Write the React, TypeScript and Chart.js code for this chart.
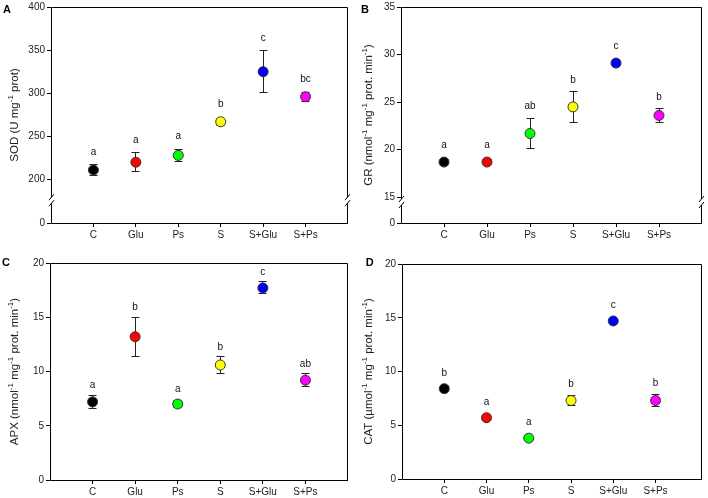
import React, { useEffect, useRef } from "react";
import { Chart, registerables } from "chart.js";

Chart.register(...registerables);

// ---------- data ----------
const categories = ["C", "Glu", "Ps", "S", "S+Glu", "S+Ps"];
const markerColors = ["#000000", "#ff0000", "#00ff00", "#ffff00", "#0000ff", "#ff00ff"];

const sodMean = [211, 220, 228, 267, 325, 296];
const sodErr = [6, 11, 7, 4, 24, 5];
const sodLetters = ["a", "a", "a", "b", "c", "bc"];
const sodTicks = [200, 250, 300, 350, 400];

const grMean = [18.7, 18.7, 21.7, 24.5, 29.1, 23.6];
const grErr = [0.3, 0.3, 1.6, 1.6, 0.3, 0.7];
const grLetters = ["a", "a", "ab", "b", "c", "b"];
const grTicks = [15, 20, 25, 30, 35];

const apxMean = [7.2, 13.2, 7.0, 10.6, 17.7, 9.2];
const apxErr = [0.6, 1.8, 0.3, 0.75, 0.55, 0.6];
const apxLetters = ["a", "b", "a", "b", "c", "ab"];
const apxTicks = [0, 5, 10, 15, 20];

const catMean = [8.4, 5.7, 3.8, 7.3, 14.7, 7.3];
const catErr = [0.3, 0.2, 0.2, 0.5, 0.2, 0.6];
const catLetters = ["b", "a", "a", "b", "c", "b"];
const catTicks = [0, 5, 10, 15, 20];

const lowerTicks = [0];

// ---------- panel definitions ----------
type Seg = { t: string; sup?: boolean };
interface PanelDef {
  tag: string;
  tagPos: [number, number];
  title: Seg[];
  mean: number[];
  err: number[];
  letters: string[];
  ticks: number[];
  min: number;
  max: number;
  xMax: number;
  broken: boolean;
  weights: [number, number];
  box: { x: number; y: number; w: number; h: number };
  area: { l: number; t: number; r: number; b: number };
  letterGap: number;
}

const panels: PanelDef[] = [
  {
    tag: "A",
    tagPos: [3, 12.5],
    title: [{ t: "SOD (U mg" }, { t: "-1", sup: true }, { t: " prot)" }],
    mean: sodMean, err: sodErr, letters: sodLetters, ticks: sodTicks,
    min: 176, max: 400, xMax: 6, broken: true, weights: [195, 23],
    box: { x: 0, y: 0, w: 354, h: 250 },
    area: { l: 51, t: 5, r: 353, b: 223 },
    letterGap: 10,
  },
  {
    tag: "B",
    tagPos: [7, 12.7],
    title: [{ t: "GR (nmol" }, { t: "-1", sup: true }, { t: " mg" }, { t: "-1", sup: true }, { t: " prot. min" }, { t: "-1", sup: true }, { t: ")" }],
    mean: grMean, err: grErr, letters: grLetters, ticks: grTicks,
    min: 14.5, max: 35, xMax: 6, broken: true, weights: [195, 21],
    box: { x: 354, y: 0, w: 354, h: 250 },
    area: { l: 47, t: 7, r: 353, b: 223 },
    letterGap: 9,
  },
  {
    tag: "C",
    tagPos: [2, 16],
    title: [{ t: "APX (nmol" }, { t: "-1", sup: true }, { t: " mg" }, { t: "-1", sup: true }, { t: " prot. min" }, { t: "-1", sup: true }, { t: ")" }],
    mean: apxMean, err: apxErr, letters: apxLetters, ticks: apxTicks,
    min: 0, max: 20, xMax: 6, broken: false, weights: [1, 0],
    box: { x: 0, y: 250, w: 354, h: 248 },
    area: { l: 50, t: 13, r: 353, b: 230 },
    letterGap: 7,
  },
  {
    tag: "D",
    tagPos: [11.7, 16],
    title: [{ t: "CAT (µmol" }, { t: "-1", sup: true }, { t: " mg" }, { t: "-1", sup: true }, { t: " prot. min" }, { t: "-1", sup: true }, { t: ")" }],
    mean: catMean, err: catErr, letters: catLetters, ticks: catTicks,
    min: 0, max: 20, xMax: 6.1, broken: false, weights: [1, 0],
    box: { x: 354, y: 250, w: 354, h: 248 },
    area: { l: 48, t: 14, r: 352, b: 229 },
    letterGap: 8,
  },
];

const FONT = '"Liberation Sans", Arial, Helvetica, sans-serif';

function align(p: number) {
  return Math.round(p - 0.5) + 0.5;
}

function drawRich(ctx: CanvasRenderingContext2D, segs: Seg[], cx: number, cy: number, size: number) {
  ctx.save();
  ctx.translate(cx, cy);
  ctx.rotate(-Math.PI / 2);
  const supSize = size * 0.7;
  const widths = segs.map((s) => {
    ctx.font = `${s.sup ? supSize : size}px ${FONT}`;
    return ctx.measureText(s.t).width;
  });
  const total = widths.reduce((a, b) => a + b, 0);
  let x = -total / 2;
  const base = size * 0.36;
  ctx.fillStyle = "#222";
  ctx.textBaseline = "alphabetic";
  ctx.textAlign = "left";
  segs.forEach((s, i) => {
    ctx.font = `${s.sup ? supSize : size}px ${FONT}`;
    ctx.fillText(s.t, x, s.sup ? base - size * 0.42 : base);
    x += widths[i];
  });
  ctx.restore();
}

function PanelChart({ p }: { p: PanelDef }) {
  const ref = useRef<HTMLCanvasElement>(null);

  useEffect(() => {
    const canvas = ref.current;
    if (!canvas) return;
    const tickFont = { family: FONT, size: 10, lineHeight: 1 };
    const gridOpts = {
      display: true,
      drawOnChartArea: false,
      drawTicks: true,
      tickLength: 4,
      color: "#000",
      lineWidth: 1,
    };
    const yBase = (ticks: number[]) => ({
      type: "linear",
      position: "left",
      afterBuildTicks: (s: any) => {
        s.ticks = ticks.map((v) => ({ value: v }));
      },
      afterFit: (s: any) => {
        s.width = p.area.l;
      },
      ticks: { font: tickFont, color: "#222", padding: 2 },
      grid: gridOpts,
      border: { display: false },
    });

    const xScale = {
      type: "linear",
      position: "bottom",
      min: -1,
      max: p.xMax,
      afterBuildTicks: (s: any) => {
        s.ticks = categories.map((_, i) => ({ value: i }));
      },
      afterFit: (s: any) => {
        s.height = p.box.h - p.area.b;
      },
      ticks: {
        font: tickFont,
        color: "#222",
        padding: 3,
        autoSkip: false,
        maxRotation: 0,
        callback: (v: any) => categories[Math.round(Number(v))] ?? "",
      },
      grid: gridOpts,
      border: { display: false },
    };

    let scales: any;
    if (p.broken) {
      // lower segment defined first so that it is stacked at the bottom
      scales = {
        x: xScale,
        y2: { ...yBase(lowerTicks), min: 0, max: 10, stack: "v", stackWeight: p.weights[1] },
        y: { ...yBase(p.ticks), min: p.min, max: p.max, stack: "v", stackWeight: p.weights[0] },
      };
    } else {
      scales = { x: xScale, y: { ...yBase(p.ticks), min: p.min, max: p.max } };
    }

    const decor = {
      id: "decor",
      beforeDatasetsDraw(chart: any) {
        const ctx = chart.ctx as CanvasRenderingContext2D;
        const xs = chart.scales.x;
        const ys = chart.scales.y;
        ctx.save();
        ctx.strokeStyle = "#222";
        ctx.lineWidth = 1;
        p.mean.forEach((m, i) => {
          const x = align(xs.getPixelForValue(i));
          const yt = ys.getPixelForValue(m + p.err[i]);
          const yb = ys.getPixelForValue(m - p.err[i]);
          ctx.beginPath();
          ctx.moveTo(x, yt);
          ctx.lineTo(x, yb);
          ctx.moveTo(x - 4, align(yt));
          ctx.lineTo(x + 4, align(yt));
          ctx.moveTo(x - 4, align(yb));
          ctx.lineTo(x + 4, align(yb));
          ctx.stroke();
        });
        ctx.restore();
      },
      afterDatasetsDraw(chart: any) {
        const ctx = chart.ctx as CanvasRenderingContext2D;
        const xs = chart.scales.x;
        const ys = chart.scales.y;
        ctx.save();
        ctx.fillStyle = "#111";
        ctx.font = `10px ${FONT}`;
        ctx.textAlign = "center";
        ctx.textBaseline = "alphabetic";
        p.mean.forEach((m, i) => {
          const x = xs.getPixelForValue(i);
          const top = Math.min(ys.getPixelForValue(m + p.err[i]), ys.getPixelForValue(m) - 5);
          ctx.fillText(p.letters[i], x, top - p.letterGap);
        });
        ctx.restore();
      },
      afterDraw(chart: any) {
        const ctx = chart.ctx as CanvasRenderingContext2D;
        const a = chart.chartArea;
        const L = align(a.left);
        const R = align(a.right - 1);
        const T = align(a.top);
        const B = align(a.bottom);
        ctx.save();
        ctx.strokeStyle = "#000";
        ctx.lineWidth = 1;
        ctx.beginPath();
        ctx.moveTo(L, T);
        ctx.lineTo(R, T);
        ctx.moveTo(L, B);
        ctx.lineTo(R + 0.5, B);
        if (p.broken) {
          const yb = chart.scales.y.bottom;
          const g = 3;
          [L, R].forEach((x) => {
            ctx.moveTo(x, T);
            ctx.lineTo(x, yb - g);
            ctx.moveTo(x, yb + g);
            ctx.lineTo(x, B);
            ctx.moveTo(x - 2.5, yb - g + 3);
            ctx.lineTo(x + 2.5, yb - g - 3);
            ctx.moveTo(x - 2.5, yb + g + 3);
            ctx.lineTo(x + 2.5, yb + g - 3);
          });
        } else {
          ctx.moveTo(L, T);
          ctx.lineTo(L, B);
          ctx.moveTo(R, T);
          ctx.lineTo(R, B);
        }
        ctx.stroke();

        // axis title
        drawRich(ctx, p.title, 14, (a.top + a.bottom) / 2, 11.5);

        // panel tag
        ctx.fillStyle = "#000";
        ctx.font = `bold 11px ${FONT}`;
        ctx.textAlign = "left";
        ctx.textBaseline = "alphabetic";
        ctx.fillText(p.tag, p.tagPos[0], p.tagPos[1]);
        ctx.restore();
      },
    };

    const chart = new Chart(canvas, {
      type: "scatter",
      data: {
        datasets: [
          {
            data: p.mean.map((v, i) => ({ x: i, y: v })),
            yAxisID: "y",
            pointRadius: 5,
            pointHoverRadius: 5,
            pointBackgroundColor: markerColors,
            pointBorderColor: "#333",
            pointBorderWidth: 1,
            showLine: false,
          } as any,
        ],
      },
      options: {
        responsive: false,
        animation: false,
        devicePixelRatio: 1,
        events: [],
        layout: {
          padding: { top: p.area.t, right: p.box.w - p.area.r, left: 0, bottom: 0 },
        },
        plugins: {
          legend: { display: false },
          tooltip: { enabled: false },
        },
        scales,
      } as any,
      plugins: [decor],
    });
    return () => chart.destroy();
  }, [p]);

  return (
    <canvas
      ref={ref}
      width={p.box.w}
      height={p.box.h}
      style={{
        position: "absolute",
        left: p.box.x,
        top: p.box.y,
        width: p.box.w,
        height: p.box.h,
      }}
    />
  );
}

export default function App() {
  return (
    <div
      style={{
        position: "absolute",
        left: 0,
        top: 0,
        width: 708,
        height: 498,
        background: "#ffffff",
        overflow: "hidden",
      }}
    >
      {panels.map((p) => (
        <PanelChart key={p.tag} p={p} />
      ))}
    </div>
  );
}
